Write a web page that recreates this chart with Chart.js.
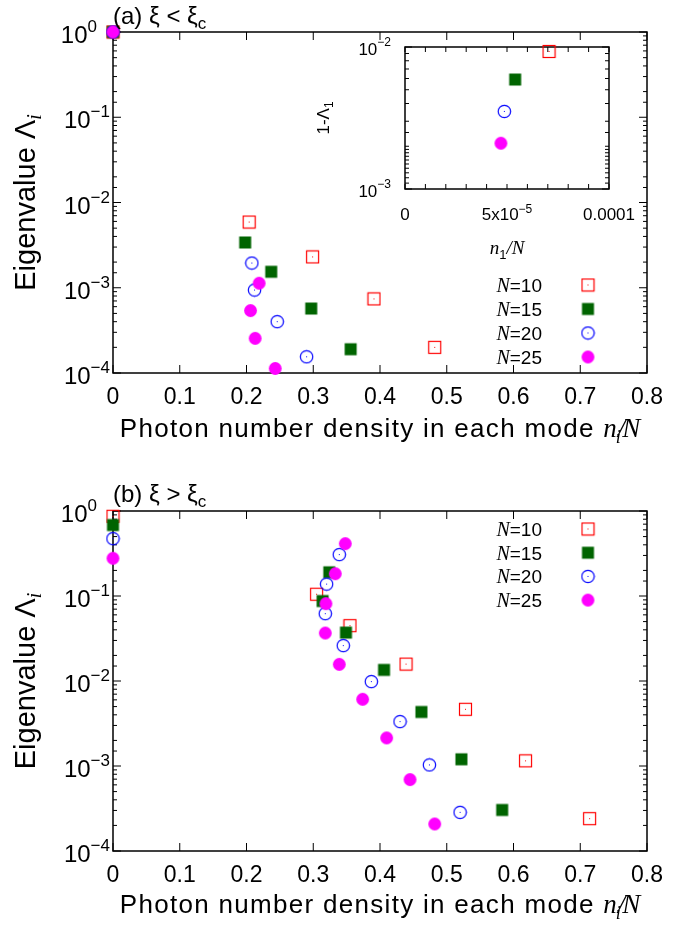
<!DOCTYPE html>
<html>
<head>
<meta charset="utf-8">
<script src="https://cdn.jsdelivr.net/npm/chart.js@4.4.0/dist/chart.umd.min.js"></script>
<style>
  body { margin: 0; background: #fff; }
  #wrap { position: relative; width: 693px; height: 926px; font-family: 'Liberation Sans', Arial, sans-serif; }
  canvas { position: absolute; }
  .tag { position: absolute; left: 113px; font-size: 24px; line-height: 28px; white-space: nowrap; }
  .tag sub { font-size: 17px; line-height: 0; vertical-align: -5px; }
</style>
</head>
<body>
<div id="wrap">
  <canvas id="chartA" width="693" height="450" style="left:0;top:0"></canvas>
  <canvas id="chartB" width="693" height="476" style="left:0;top:450px"></canvas>
  <canvas id="inset" width="340" height="240" style="left:300px;top:30px"></canvas>
  <div class="tag" style="top:2px">(a) ξ &lt; ξ<sub>c</sub></div>
  <div class="tag" style="top:480px">(b) ξ &gt; ξ<sub>c</sub></div>
</div>
<script>
const sizes = ['10', '15', '20', '25'];
const colors = ['#ff0000', '#006400', '#0000ff', '#ff00ff'];

// (a) xi < xi_c
const a10x = [0, 0.204, 0.299, 0.391, 0.482];
const a10y = [1, 5.9e-3, 2.3e-3, 7.4e-4, 2.0e-4];
const a15x = [0, 0.198, 0.237, 0.297, 0.356];
const a15y = [1, 3.4e-3, 1.54e-3, 5.7e-4, 1.9e-4];
const a20x = [0, 0.208, 0.212, 0.246, 0.290];
const a20y = [1, 1.95e-3, 9.4e-4, 4.0e-4, 1.55e-4];
const a25x = [0, 0.219, 0.206, 0.213, 0.243];
const a25y = [1, 1.13e-3, 5.4e-4, 2.55e-4, 1.13e-4];

// inset: 1-Lambda_1 vs n_1/N, one point per N
const insetX = [7.06e-5, 5.4e-5, 4.87e-5, 4.7e-5];
const insetY = [9.3e-3, 5.9e-3, 3.52e-3, 2.1e-3];

// (b) xi > xi_c
const b10x = [0, 0.305, 0.355, 0.439, 0.528, 0.618, 0.714];
const b10y = [0.867, 0.105, 0.0448, 0.0158, 4.65e-3, 1.15e-3, 2.4e-4];
const b15x = [0, 0.314, 0.324, 0.349, 0.406, 0.462, 0.522, 0.583];
const b15y = [0.684, 0.0873, 0.19, 0.0371, 0.0135, 4.32e-3, 1.2e-3, 3.04e-4];
const b20x = [0, 0.339, 0.320, 0.318, 0.345, 0.387, 0.430, 0.474, 0.520];
const b20y = [0.473, 0.307, 0.138, 0.062, 0.0261, 9.84e-3, 3.33e-3, 1.03e-3, 2.85e-4];
const b25x = [0, 0.348, 0.333, 0.319, 0.318, 0.339, 0.374, 0.410, 0.445, 0.482];
const b25y = [0.278, 0.413, 0.183, 0.0813, 0.0367, 0.0157, 6.09e-3, 2.14e-3, 6.92e-4, 2.08e-4];

const sans = "'Liberation Sans', Arial, sans-serif";
const serif = "'Liberation Serif', 'Times New Roman', serif";

// gnuplot-like point symbols (open ones have a dot in the middle)
function marker(kind, color) {
    const c = document.createElement('canvas');
    c.width = 15; c.height = 15;
    const g = c.getContext('2d');
    g.strokeStyle = color; g.fillStyle = color; g.lineWidth = 1.2;
    if (kind === 'box') {
        g.strokeRect(1.5, 1.5, 12, 12);
        g.fillRect(7, 7, 1, 1);
    } else if (kind === 'boxfill') {
        g.fillRect(1.5, 1.5, 12, 12);
    } else if (kind === 'ring') {
        g.beginPath(); g.arc(7.5, 7.5, 6.2, 0, 2 * Math.PI); g.stroke();
        g.fillRect(7, 7, 1, 1);
    } else {
        g.beginPath(); g.arc(7.5, 7.5, 6.4, 0, 2 * Math.PI); g.fill();
    }
    return c;
}
const symbols = [marker('box', colors[0]), marker('boxfill', colors[1]), marker('ring', colors[2]), marker('disk', colors[3])];

function makeSets(xs, ys) {
    return xs.map((xv, k) => ({
        label: 'N=' + sizes[k],
        data: xv.map((v, i) => ({ x: v, y: ys[k][i] })),
        pointStyle: symbols[k],
        pointRadius: 7,
        order: 3 - k,
        clip: false
    }));
}

function isDecade(v) {
    const e = Math.log10(v);
    return Math.abs(e - Math.round(e)) < 1e-6;
}

// draw a run of text pieces with their own fonts (for italics, sub/superscripts)
function drawParts(ctx, parts, x, y, align) {
    let total = 0;
    parts.forEach(p => {
        ctx.font = p.font;
        ctx.letterSpacing = p.ls || '0px';
        p.w = ctx.measureText(p.t).width + (p.dx || 0);
        total += p.w;
    });
    let cx = align === 'center' ? x - total / 2 : align === 'right' ? x - total : x;
    ctx.textAlign = 'left';
    ctx.textBaseline = 'alphabetic';
    parts.forEach(p => {
        ctx.font = p.font;
        ctx.letterSpacing = p.ls || '0px';
        ctx.fillText(p.t, cx + (p.dx || 0), y + (p.dy || 0));
        cx += p.w;
    });
    ctx.letterSpacing = '0px';
}

// border + inward ticks on all four sides
const gnuFrame = {
    id: 'gnuFrame',
    beforeDatasetsDraw(chart, args, opts) {
        const { ctx, chartArea: a, scales: { x, y } } = chart;
        ctx.save();
        ctx.strokeStyle = '#000';
        ctx.lineWidth = 1;
        ctx.beginPath();
        x.ticks.forEach(t => {
            const px = x.getPixelForValue(t.value);
            ctx.moveTo(px, a.bottom); ctx.lineTo(px, a.bottom - opts.xTick);
            ctx.moveTo(px, a.top); ctx.lineTo(px, a.top + opts.xTick);
        });
        y.ticks.forEach(t => {
            const py = y.getPixelForValue(t.value);
            const len = isDecade(t.value) ? opts.major : opts.minor;
            ctx.moveTo(a.left, py); ctx.lineTo(a.left + len, py);
            ctx.moveTo(a.right, py); ctx.lineTo(a.right - len, py);
        });
        ctx.stroke();
        ctx.lineWidth = 1.5;
        ctx.strokeRect(a.left, a.top, a.right - a.left, a.bottom - a.top);
        ctx.restore();
    }
};

// decade labels 10^n with a real superscript, axis titles with italic parts
const gnuText = {
    id: 'gnuText',
    afterDraw(chart, args, opts) {
        const { ctx, chartArea: a, scales: { x, y } } = chart;
        const pw = opts.pow;
        ctx.save();
        ctx.fillStyle = '#000';
        y.ticks.forEach(t => {
            if (!isDecade(t.value)) return;
            const n = Math.round(Math.log10(t.value));
            const e = n < 0 ? '\u2212' + (-n) : String(n);
            const py = y.getPixelForValue(t.value);
            // gnuplot leaves the plain 10^0 label further from the axis
            const pad = n === 0 ? pw.padZero : pw.pad;
            drawParts(ctx, [
                { t: '10', font: pw.size + 'px ' + sans },
                { t: e, font: pw.sup + 'px ' + sans, dy: -pw.raise }
            ], a.left - pad, py + pw.base, 'right');
        });
        if (opts.xLabels) {
            opts.xLabels.forEach(l => {
                const px = x.getPixelForValue(l.v);
                drawParts(ctx, l.parts, px, a.bottom + opts.xLabelBase, 'center');
            });
        }
        drawParts(ctx, opts.xTitle, (a.left + a.right) / 2 + (opts.xTitleDx || 0), a.bottom + opts.xTitleBase, 'center');
        ctx.translate(opts.yTitleX, (a.top + a.bottom) / 2);
        ctx.rotate(-Math.PI / 2);
        drawParts(ctx, opts.yTitle, 0, 0, 'center');
        ctx.restore();
    }
};

// key drawn the gnuplot way: text right-aligned, symbol on the right
const gnuLegend = {
    id: 'gnuLegend',
    afterDatasetsDraw(chart, args, opts) {
        if (!opts.show) return;
        const { ctx, chartArea: a } = chart;
        ctx.save();
        ctx.fillStyle = '#000';
        chart.data.datasets.forEach((ds, i) => {
            const y = (opts.fromTop ? a.top : a.bottom) + opts.dy + i * opts.step;
            drawParts(ctx, [
                { t: 'N', font: 'italic 20px ' + serif },
                { t: ds.label.slice(1), font: '19px ' + sans }
            ], a.right - 105, y + 7, 'right');
            const img = ds.pointStyle;
            ctx.drawImage(img, a.right - 59 - img.width / 2, y - img.height / 2);
        });
        ctx.restore();
    }
};

const mainXTitle = [
    { t: 'Photon number density in each mode ', font: '26px ' + sans, ls: '1.3px' },
    { t: 'n', font: 'italic 27px ' + serif },
    { t: 'i', font: 'italic 18px ' + serif, dy: 6, dx: -1 },
    { t: '/', font: 'italic 27px ' + serif, dx: -3 },
    { t: 'N', font: 'italic 27px ' + serif, dx: -3 }
];
const mainYTitle = [
    { t: 'Eigenvalue Λ', font: '29px ' + sans },
    { t: 'i', font: 'italic 20px ' + serif, dy: 6 }
];

function mainOptions(padTop, xHeight, xTitleBase, legendOpts) {
    return {
        responsive: false,
        animation: false,
        devicePixelRatio: 1,
        layout: { padding: { left: 0, top: padTop, right: 46, bottom: 0 } },
        plugins: {
            legend: { display: false },
            tooltip: { enabled: false },
            gnuLegend: legendOpts,
            gnuFrame: { major: 8, minor: 4, xTick: 8 },
            gnuText: {
                pow: { size: 24, sup: 17, raise: 11, pad: 3, padZero: 16, base: 11 },
                xTitle: mainXTitle, xTitleBase: xTitleBase,
                yTitle: mainYTitle, yTitleX: 35
            }
        },
        scales: {
            x: {
                type: 'linear', min: 0, max: 0.8,
                grid: { display: false, drawTicks: false },
                border: { display: false },
                ticks: {
                    stepSize: 0.1, padding: 11, color: '#000', autoSkip: false, maxRotation: 0,
                    font: { size: 23, family: sans },
                    callback: v => v === 0 ? '0' : v.toFixed(1)
                },
                title: { display: false },
                afterFit: s => { s.height = xHeight; }
            },
            y: {
                type: 'logarithmic', min: 1e-4, max: 1,
                grid: { display: false, drawTicks: false },
                border: { display: false },
                ticks: { display: false, autoSkip: false },
                title: { display: false },
                afterFit: s => { s.width = 113; }
            }
        }
    };
}

new Chart(document.getElementById('chartA'), {
    type: 'scatter',
    data: { datasets: makeSets([a10x, a15x, a20x, a25x], [a10y, a15y, a20y, a25y]) },
    options: mainOptions(32, 77, 64, { show: true, fromTop: false, dy: -88, step: 24 }),
    plugins: [gnuFrame, gnuLegend, gnuText]
});

new Chart(document.getElementById('chartB'), {
    type: 'scatter',
    data: { datasets: makeSets([b10x, b15x, b20x, b25x], [b10y, b15y, b20y, b25y]) },
    options: mainOptions(61, 75, 62, { show: true, fromTop: true, dy: 18, step: 23.7 }),
    plugins: [gnuFrame, gnuLegend, gnuText]
});

const insetSets = makeSets(insetX.map(v => [v]), insetY.map(v => [v]));

new Chart(document.getElementById('inset'), {
    type: 'scatter',
    data: { datasets: insetSets },
    options: {
        responsive: false,
        animation: false,
        devicePixelRatio: 1,
        layout: { padding: { left: 0, top: 17, right: 31, bottom: 0 } },
        plugins: {
            legend: { display: false },
            tooltip: { enabled: false },
            gnuLegend: { show: false },
            gnuFrame: { major: 7, minor: 4, xTick: 5 },
            gnuText: {
                pow: { size: 17, sup: 12, raise: 9, pad: 14, padZero: 14, base: 8 },
                xLabels: [
                    { v: 0, parts: [{ t: '0', font: '17px ' + sans }] },
                    { v: 5e-5, parts: [{ t: '5x10', font: '17px ' + sans }, { t: '\u22125', font: '12px ' + sans, dy: -7 }] },
                    { v: 1e-4, parts: [{ t: '0.0001', font: '17px ' + sans }] }
                ],
                xLabelBase: 31,
                xTitle: [
                    { t: 'n', font: 'italic 19px ' + serif },
                    { t: '1', font: '13px ' + sans, dy: 5 },
                    { t: '/N', font: 'italic 19px ' + serif }
                ],
                xTitleBase: 65, xTitleDx: 0,
                yTitle: [
                    { t: '1-Λ', font: '17px ' + sans },
                    { t: '1', font: '12px ' + sans, dy: 4 }
                ],
                yTitleX: 29
            }
        },
        scales: {
            x: {
                type: 'linear', min: 0, max: 1e-4,
                grid: { display: false, drawTicks: false },
                border: { display: false },
                ticks: { display: false, stepSize: 1e-5, autoSkip: false },
                title: { display: false },
                afterFit: s => { s.height = 81; }
            },
            y: {
                type: 'logarithmic', min: 1e-3, max: 1e-2,
                grid: { display: false, drawTicks: false },
                border: { display: false },
                ticks: { display: false, autoSkip: false },
                title: { display: false },
                afterFit: s => { s.width = 105; }
            }
        }
    },
    plugins: [gnuFrame, gnuLegend, gnuText]
});
</script>
</body>
</html>
